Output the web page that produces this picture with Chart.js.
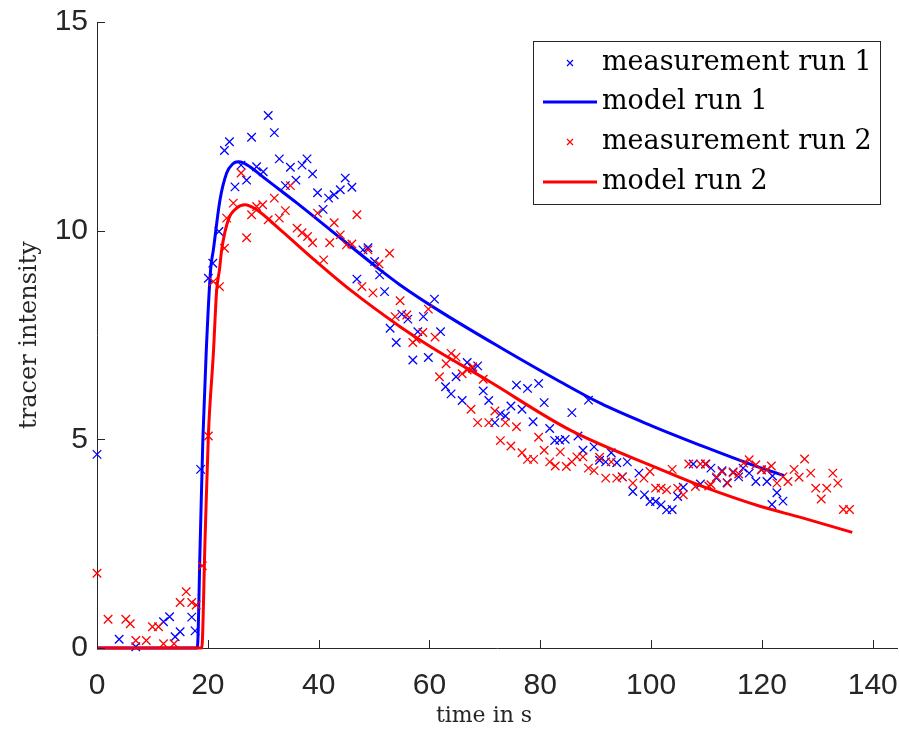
<!DOCTYPE html>
<html lang="en">
<head>
  <meta charset="UTF-8">
  <title>tracer intensity</title>
  <script src="https://cdn.jsdelivr.net/npm/chart.js"></script>
  <style>
    html, body { margin: 0; padding: 0; background: #fff; }
    #wrap { width: 899px; height: 732px; position: relative; overflow: hidden; }
  </style>
</head>
<body>
<div id="wrap"><canvas id="chart" width="905" height="732"></canvas></div>
<script>
// measurement run 1 (blue crosses)
const time1 = [0, 4.0, 7.0, 12.0, 13.1, 14.1, 15.0, 17.1, 17.7, 18.7, 20.1, 20.9, 22.0, 23.0, 23.9, 24.9, 26.0, 27.0, 27.9, 28.8,
  30.0, 30.9, 32.0, 32.9, 34.0, 34.9, 35.9, 37.0, 37.9, 38.9, 39.8, 40.8, 41.8, 42.8, 43.9, 44.8, 46.0, 46.9, 48.0, 48.9,
  50.1, 51.0, 51.9, 52.9, 54.0, 55.0, 56.1, 57.0, 57.9, 58.9, 59.8, 60.9, 62.0, 62.9, 63.9, 64.8, 65.9, 66.8, 67.8, 68.7,
  69.7, 70.7, 71.8, 72.8, 73.7, 74.7, 75.7, 76.7, 77.7, 78.7, 79.7, 80.7, 81.7, 82.6, 83.5, 84.5, 85.7, 86.8, 87.7, 88.7,
  89.7, 90.7, 91.8, 92.8, 93.8, 94.8, 95.7, 96.7, 97.8, 98.8, 99.8, 100.8, 101.8, 102.8, 103.8, 104.8, 105.8, 107.6, 108.9, 109.8,
  110.8, 111.8, 112.8, 113.7, 114.8, 115.8, 116.6, 117.7, 118.9, 119.9, 120.9, 121.9, 121.8, 122.7, 123.8];
const meas1 = [4.64, 0.21, 0.03, 0.63, 0.75, 0.27, 0.39, 0.74, 0.41, 4.28, 8.86, 9.22, 9.98, 11.92, 12.13, 11.05, 11.57, 11.21, 12.24, 11.53,
  11.41, 12.76, 12.35, 11.72, 11.08, 11.52, 11.21, 11.57, 11.72, 11.36, 10.91, 10.51, 10.78, 10.86, 10.98, 11.26, 11.04, 8.84, 9.54, 9.59,
  9.26, 8.94, 8.54, 7.66, 7.32, 8.00, 7.88, 6.90, 7.58, 7.94, 6.96, 8.36, 7.58, 6.26, 6.09, 6.50, 5.93, 6.84, 6.70, 6.76,
  6.16, 5.93, 5.40, 5.61, 5.56, 5.80, 6.30, 5.72, 6.22, 5.42, 6.34, 5.88, 5.26, 4.97, 4.98, 5.00, 5.64, 5.08, 4.74, 5.94,
  4.82, 4.50, 4.46, 4.68, 4.44, 4.10, 4.46, 3.75, 4.19, 3.67, 3.51, 3.51, 3.43, 3.31, 3.32, 3.63, 3.85, 4.41, 3.93, 4.41,
  4.31, 4.07, 4.25, 3.96, 4.22, 4.10, 4.31, 4.19, 3.99, 4.27, 3.99, 4.12, 3.44, 3.72, 3.52];

// measurement run 2 (red crosses)
const time2 = [0, 2.0, 5.2, 6.0, 7.0, 8.9, 10.0, 11.1, 12.0, 13.9, 15.0, 16.1, 17.1, 17.9, 19.0, 20.1, 21.0, 22.1, 23.0, 23.4,
  24.6, 26.0, 27.0, 27.9, 28.8, 29.9, 30.9, 32.0, 32.9, 34.0, 34.9, 36.1, 37.0, 38.0, 38.9, 39.8, 40.9, 42.0, 42.8, 43.9,
  45.0, 46.0, 46.9, 47.8, 48.9, 49.8, 50.9, 52.8, 53.8, 54.7, 55.9, 57.0, 57.6, 58.8, 59.8, 61.0, 61.8, 63.0, 63.9, 64.8,
  65.9, 66.8, 67.8, 67.5, 68.7, 69.7, 70.7, 71.8, 72.8, 73.7, 74.7, 75.7, 76.7, 77.7, 78.8, 79.7, 80.7, 81.7, 82.7, 83.6,
  84.7, 85.7, 86.6, 87.7, 88.7, 89.7, 90.7, 91.8, 92.8, 93.8, 94.8, 96.7, 98.7, 99.8, 100.8, 101.8, 102.8, 103.8, 104.8, 105.8,
  106.8, 108.0, 108.9, 109.9, 110.4, 110.8, 111.8, 112.8, 113.8, 114.8, 115.8, 116.7, 117.7, 118.9, 119.9, 120.9, 121.7, 122.7, 123.8, 124.7,
  125.8, 126.7, 127.7, 128.8, 129.7, 130.7, 131.7, 132.8, 133.7, 134.7, 135.8];
const meas2 = [1.79, 0.69, 0.69, 0.58, 0.18, 0.18, 0.51, 0.51, 0.10, 0.10, 1.09, 1.35, 1.09, 1.03, 1.97, 5.08, 8.78, 8.66, 9.58, 10.30,
  10.66, 11.38, 9.83, 10.38, 10.58, 10.62, 10.26, 10.78, 10.30, 10.48, 11.08, 10.06, 9.95, 9.86, 9.71, 10.42, 9.30, 9.71, 10.19, 9.90,
  9.66, 9.68, 10.38, 8.66, 9.54, 8.51, 9.20, 9.46, 7.94, 8.32, 7.98, 7.32, 7.40, 7.56, 8.12, 7.45, 6.50, 6.81, 7.06, 6.97,
  6.57, 6.66, 6.74, 5.72, 5.40, 6.44, 5.40, 5.68, 4.97, 5.40, 4.84, 5.30, 4.68, 4.52, 4.52, 5.05, 4.74, 4.46, 4.36, 4.70,
  4.35, 4.46, 4.58, 4.58, 4.31, 4.25, 4.57, 4.07, 4.46, 4.07, 4.10, 3.95, 4.07, 4.23, 3.83, 3.83, 3.79, 4.28, 3.83, 3.67,
  4.41, 3.87, 4.41, 4.41, 3.88, 3.91, 4.10, 4.22, 3.95, 4.20, 4.17, 4.43, 4.51, 4.39, 4.27, 4.27, 4.36, 3.95, 4.10, 3.99,
  4.28, 4.09, 4.53, 4.19, 3.83, 3.57, 3.83, 4.19, 3.95, 3.32, 3.32];

// model curves
const modelTime1 = [0, 18.1, 18.6, 19.1, 19.7, 20.5, 21.0, 22.2, 23.4, 24.5, 25.5, 26.5, 27.6, 30.7, 36.1, 42.1, 51.1, 54.7, 62.0, 72.8, 83.6, 90.9, 100, 110, 118, 124];
const model1 = [0, 0, 2.4, 4.98, 7.06, 9.06, 9.54, 10.74, 11.38, 11.60, 11.65, 11.62, 11.53, 11.21, 10.66, 10.02, 9.06, 8.70, 8.06, 7.20, 6.38, 5.86, 5.33, 4.80, 4.40, 4.13];
const modelTime2 = [0, 18.9, 19.5, 20.1, 21.0, 21.6, 22.1, 22.5, 23.7, 25.2, 26.7, 28.8, 33.1, 39.4, 45.7, 54.7, 60.2, 70.4, 85.4, 101.7, 108.9, 119.8, 127, 136.3];
const model2 = [0, 0, 2.6, 5.10, 7.06, 8.58, 9.06, 9.54, 10.26, 10.54, 10.62, 10.50, 10.02, 9.28, 8.58, 7.70, 7.22, 6.42, 5.22, 4.28, 3.89, 3.39, 3.13, 2.77];

const xTicks = [0, 20, 40, 60, 80, 100, 120, 140];
const yTicks = [0, 5, 10, 15];
const legendLabels = ["measurement run 1", "model run 1", "measurement run 2", "model run 2"];

const BLUE = "#0000ff", RED = "#ff0000", AXIS = "#262626";
const SERIF = "'DejaVu Serif', serif";

function pts(t, v) { return t.map((x, i) => ({ x: x, y: v[i] })); }

// inward ticks, axis titles and boxed legend
const decorations = {
  id: "decorations",
  afterDraw(chart) {
    const ctx = chart.ctx, a = chart.chartArea;
    const xs = chart.scales.x, ys = chart.scales.y;
    ctx.save();
    ctx.strokeStyle = AXIS;
    ctx.lineWidth = 1;
    ctx.beginPath();
    xTicks.forEach(v => { const p = Math.round(xs.getPixelForValue(v)) + 0.5; ctx.moveTo(p, a.bottom); ctx.lineTo(p, a.bottom - 8); });
    yTicks.forEach(v => { const p = Math.round(ys.getPixelForValue(v)) + 0.5; ctx.moveTo(a.left, p); ctx.lineTo(a.left + 8, p); });
    ctx.stroke();

    ctx.fillStyle = AXIS;
    ctx.textAlign = "center";
    ctx.textBaseline = "middle";
    ctx.font = "22px " + SERIF;
    ctx.fillText("time in s", 484, 716);
    ctx.font = "24px " + SERIF;
    ctx.translate(30, (a.top + a.bottom) / 2);
    ctx.rotate(-Math.PI / 2);
    ctx.fillText("tracer intensity", 0, 0);
    ctx.restore();

    // legend
    ctx.save();
    const bx = 533.5, by = 41.5, bw = 347, bh = 163;
    ctx.fillStyle = "#fff";
    ctx.fillRect(bx, by, bw, bh);
    ctx.strokeStyle = AXIS;
    ctx.lineWidth = 1;
    ctx.strokeRect(bx, by, bw, bh);
    const rows = [63, 102, 142, 182];
    const kinds = [["cross", BLUE], ["line", BLUE], ["cross", RED], ["line", RED]];
    ctx.font = "27px " + SERIF;
    ctx.textAlign = "left";
    ctx.textBaseline = "middle";
    rows.forEach((ry, i) => {
      const [k, c] = kinds[i];
      ctx.strokeStyle = c;
      if (k === "line") {
        ctx.lineWidth = 3;
        ctx.beginPath(); ctx.moveTo(543, ry); ctx.lineTo(597, ry); ctx.stroke();
      } else {
        ctx.lineWidth = 1.2;
        ctx.beginPath();
        ctx.moveTo(567, ry - 3); ctx.lineTo(573, ry + 3);
        ctx.moveTo(567, ry + 3); ctx.lineTo(573, ry - 3);
        ctx.stroke();
      }
      ctx.fillStyle = "#000";
      ctx.fillText(legendLabels[i], 602, ry);
    });
    ctx.restore();
  }
};

const tickFont = { family: "'Liberation Sans', Arial, sans-serif", size: 30 };

new Chart(document.getElementById("chart"), {
  type: "scatter",
  data: {
    datasets: [
      { label: legendLabels[0], data: pts(time1, meas1), pointStyle: "crossRot", pointRadius: 6, borderColor: BLUE, backgroundColor: BLUE, pointBorderWidth: 1.3, showLine: false, order: 4, clip: false },
      { label: legendLabels[1], data: pts(modelTime1, model1), showLine: true, borderColor: BLUE, borderWidth: 3, pointRadius: 0, cubicInterpolationMode: "monotone", order: 3, clip: 4 },
      { label: legendLabels[2], data: pts(time2, meas2), pointStyle: "crossRot", pointRadius: 6, borderColor: RED, backgroundColor: RED, pointBorderWidth: 1.3, showLine: false, order: 2, clip: false },
      { label: legendLabels[3], data: pts(modelTime2, model2), showLine: true, borderColor: RED, borderWidth: 3, pointRadius: 0, cubicInterpolationMode: "monotone", order: 1, clip: 4 }
    ]
  },
  options: {
    responsive: false,
    animation: false,
    layout: { padding: { top: 22, right: 0, left: 0, bottom: 0 } },
    plugins: { legend: { display: false }, tooltip: { enabled: false } },
    scales: {
      x: {
        type: "linear", min: 0, max: 144.5,
        afterFit: s => { s.height = 84; s.paddingLeft = 0; s.paddingRight = 0; },
        grid: { display: false, drawTicks: false },
        border: { display: true, color: AXIS, width: 1 },
        ticks: { stepSize: 20, includeBounds: false, font: tickFont, color: AXIS, padding: 20, maxRotation: 0 }
      },
      y: {
        type: "linear", min: 0, max: 15,
        afterFit: s => { s.width = 97; s.paddingTop = 0; s.paddingBottom = 0; },
        grid: { display: false, drawTicks: false },
        border: { display: true, color: AXIS, width: 1 },
        ticks: { stepSize: 5, includeBounds: false, font: tickFont, color: AXIS, padding: 9 }
      }
    }
  },
  plugins: [decorations]
});
</script>
</body>
</html>
